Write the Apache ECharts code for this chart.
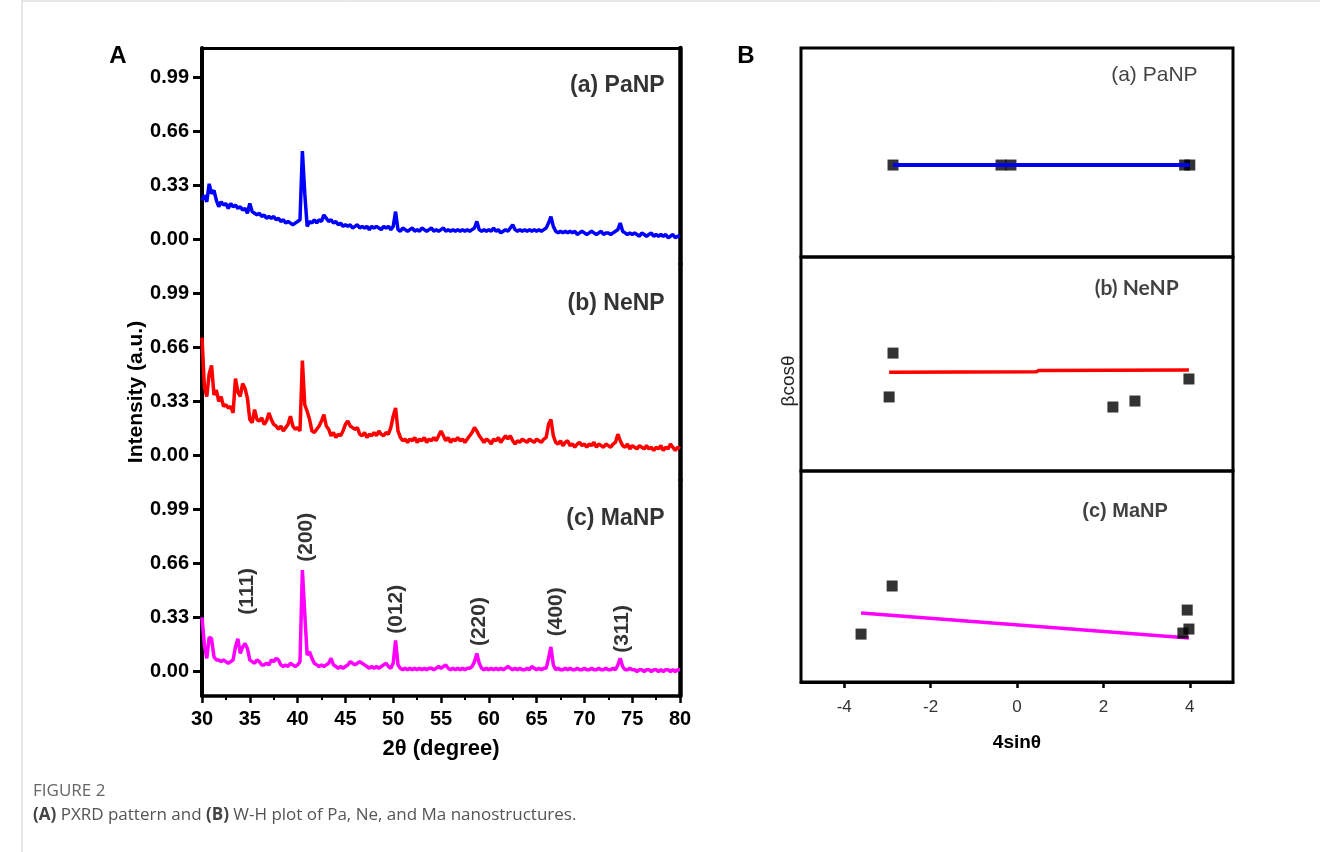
<!DOCTYPE html>
<html>
<head>
<meta charset="utf-8">
<script src="https://cdn.jsdelivr.net/npm/echarts@6/dist/echarts.min.js"></script>
<style>
html,body{margin:0;padding:0;background:#fff;}
#chart{width:1320px;height:852px;}
</style>
</head>
<body>
<div id="chart"></div>
<script>
// ---------- DATA ----------
const TWO_THETA_START = 30;
const TWO_THETA_STEP = 0.25;
const intensityPaNP = [
0.24,0.27,0.23,0.34,0.28,0.30,0.24,0.20,0.23,0.21,0.22,0.19,0.22,0.20,0.21,0.19,0.20,0.18,0.19,0.16,
0.22,0.17,0.16,0.15,0.16,0.14,0.15,0.13,0.14,0.13,0.14,0.12,0.13,0.11,0.12,0.10,0.11,0.10,0.09,0.10,
0.11,0.12,0.54,0.28,0.08,0.11,0.10,0.12,0.10,0.12,0.11,0.15,0.13,0.11,0.12,0.10,0.11,0.09,0.10,0.08,
0.09,0.08,0.09,0.07,0.08,0.09,0.07,0.08,0.07,0.08,0.06,0.08,0.07,0.08,0.07,0.06,0.08,0.07,0.08,0.06,
0.08,0.17,0.06,0.05,0.07,0.06,0.05,0.06,0.07,0.05,0.06,0.05,0.07,0.06,0.05,0.06,0.07,0.05,0.06,0.05,
0.06,0.07,0.05,0.06,0.05,0.06,0.05,0.06,0.05,0.06,0.05,0.06,0.05,0.06,0.07,0.11,0.06,0.05,0.06,0.05,
0.06,0.05,0.07,0.05,0.06,0.04,0.05,0.06,0.05,0.07,0.09,0.06,0.05,0.06,0.05,0.06,0.05,0.06,0.05,0.06,
0.05,0.06,0.05,0.06,0.07,0.10,0.14,0.08,0.05,0.04,0.05,0.04,0.05,0.04,0.05,0.04,0.05,0.03,0.04,0.05,
0.04,0.03,0.04,0.05,0.04,0.03,0.04,0.05,0.03,0.04,0.04,0.03,0.04,0.05,0.06,0.10,0.05,0.04,0.03,0.04,
0.03,0.04,0.03,0.02,0.04,0.03,0.02,0.03,0.04,0.02,0.03,0.02,0.03,0.02,0.03,0.01,0.02,0.03,0.01,0.02,
0.02];
const intensityNeNP = [
0.72,0.42,0.36,0.50,0.55,0.37,0.40,0.33,0.36,0.30,0.31,0.29,0.30,0.26,0.47,0.39,0.36,0.44,0.41,0.35,
0.22,0.20,0.28,0.22,0.21,0.23,0.19,0.21,0.26,0.22,0.19,0.18,0.16,0.18,0.15,0.17,0.19,0.24,0.18,0.16,
0.17,0.15,0.58,0.31,0.27,0.22,0.15,0.14,0.16,0.18,0.21,0.25,0.18,0.16,0.12,0.14,0.11,0.13,0.12,0.15,
0.19,0.21,0.18,0.17,0.16,0.17,0.13,0.12,0.14,0.11,0.13,0.12,0.14,0.12,0.15,0.13,0.12,0.14,0.13,0.17,
0.24,0.29,0.15,0.11,0.09,0.10,0.08,0.10,0.09,0.11,0.08,0.10,0.09,0.11,0.08,0.10,0.09,0.11,0.09,0.12,
0.15,0.12,0.09,0.11,0.08,0.10,0.09,0.11,0.09,0.10,0.08,0.10,0.12,0.14,0.17,0.15,0.12,0.10,0.08,0.10,
0.09,0.07,0.10,0.09,0.11,0.08,0.10,0.12,0.10,0.12,0.09,0.07,0.09,0.08,0.10,0.09,0.08,0.10,0.09,0.08,
0.10,0.09,0.08,0.10,0.11,0.19,0.22,0.12,0.08,0.07,0.09,0.06,0.08,0.09,0.06,0.07,0.05,0.07,0.08,0.06,
0.07,0.05,0.07,0.06,0.08,0.05,0.07,0.06,0.05,0.07,0.06,0.05,0.07,0.08,0.13,0.09,0.06,0.05,0.07,0.04,
0.06,0.05,0.04,0.06,0.05,0.04,0.06,0.04,0.05,0.03,0.05,0.04,0.06,0.03,0.05,0.04,0.07,0.05,0.03,0.05,
0.04];
const intensityMaNP = [
0.33,0.16,0.08,0.21,0.20,0.09,0.07,0.07,0.06,0.07,0.06,0.05,0.06,0.07,0.15,0.20,0.11,0.15,0.17,0.14,
0.07,0.06,0.05,0.07,0.06,0.04,0.04,0.05,0.04,0.07,0.06,0.08,0.07,0.04,0.03,0.04,0.03,0.05,0.04,0.03,
0.04,0.06,0.62,0.35,0.10,0.12,0.08,0.05,0.04,0.03,0.04,0.03,0.04,0.05,0.08,0.04,0.03,0.02,0.03,0.02,
0.03,0.04,0.06,0.05,0.04,0.05,0.06,0.05,0.04,0.03,0.02,0.03,0.02,0.03,0.02,0.03,0.04,0.05,0.03,0.02,
0.05,0.19,0.04,0.02,0.01,0.02,0.01,0.02,0.01,0.02,0.01,0.02,0.01,0.02,0.01,0.02,0.02,0.01,0.02,0.03,
0.02,0.03,0.04,0.02,0.01,0.02,0.01,0.02,0.01,0.02,0.01,0.02,0.02,0.03,0.06,0.11,0.05,0.02,0.01,0.02,
0.01,0.02,0.01,0.02,0.01,0.02,0.01,0.02,0.03,0.02,0.01,0.02,0.01,0.02,0.01,0.01,0.02,0.01,0.03,0.02,
0.01,0.02,0.01,0.02,0.02,0.08,0.15,0.04,0.01,0.02,0.01,0.01,0.02,0.01,0.02,0.01,0.01,0.02,0.01,0.01,
0.02,0.01,0.01,0.02,0.01,0.01,0.02,0.01,0.01,0.02,0.01,0.01,0.02,0.01,0.04,0.08,0.03,0.01,0.01,0.02,
0.01,0.01,0.00,0.01,0.01,0.00,0.01,0.01,0.00,0.01,0.01,0.00,0.01,0.00,0.01,0.01,0.00,0.01,0.00,0.01,
0.01];
const intensityTicks = [0, 0.33, 0.66, 0.99];
const panelNames = ['(a) PaNP', '(b) NeNP', '(c) MaNP'];
const panelNamePos = [[78.4, 0.94], [78.4, 0.925], [78.4, 0.935]];
const peakLabels = ['(111)', '(200)', '(012)', '(220)', '(400)', '(311)'];
const peakLabel2theta = [34.7, 40.9, 50.3, 58.95, 67.0, 74.0];
const peakLabelY = [0.49, 0.82, 0.38, 0.305, 0.365, 0.26];

// W-H plot (arbitrary βcosθ units)
const whPaNP_x = [-2.87, -0.37, -0.14, 3.88, 4.0];
const whPaNP_y = [4.4, 4.4, 4.4, 4.4, 4.4];
const whPaNP_fit = [[-2.87, 4.4], [4.0, 4.4]];
const whNeNP_x = [-2.87, -2.96, 2.22, 2.73, 3.98];
const whNeNP_y = [5.51, 3.46, 2.99, 3.27, 4.30];
const whNeNP_fit = [[-2.96, 4.62], [0.45, 4.64], [0.5, 4.70], [3.98, 4.72]];
const whMaNP_x = [-3.61, -2.89, 3.94, 3.98, 3.84];
const whMaNP_y = [2.27, 4.55, 3.41, 2.51, 2.32];
const whMaNP_fit = [[-3.61, 3.27], [3.98, 2.09]];
const whTicks = [-4, -2, 0, 2, 4];
const whPanelNamePos = [[3.18, 8.68], [2.77, 8.55], [2.50, 8.06]];

// ---------- BUILD ----------
function toPairs(arr) { return arr.map((v, i) => [TWO_THETA_START + i * TWO_THETA_STEP, v]); }
function zipXY(xs, ys) { return xs.map((x, i) => [x, ys[i]]); }

const AX = { left: 202, width: 478 };
const aTops = [48, 264, 480];
const aH = 216;
const bTops = [48, 257, 471];
const bHs = [209, 214, 211];
const BX = { left: 801, width: 432 };

const boldFont = 'Liberation Sans';
const grids = [];
aTops.forEach(t => grids.push({ left: AX.left, width: AX.width, top: t, height: aH, show: false }));
bTops.forEach((t, i) => grids.push({ left: BX.left, width: BX.width, top: t, height: bHs[i], show: true, borderColor: '#000', borderWidth: 3, backgroundColor: 'transparent' }));

const xAxes = [
  { gridIndex: 0, type: 'value', min: 30, max: 80, position: 'top', axisLine: { show: true, onZero: false, lineStyle: { color: '#000', width: 3 } }, axisTick: { show: false }, axisLabel: { show: false }, splitLine: { show: false } },
  { gridIndex: 1, type: 'value', min: 30, max: 80, show: false, splitLine: { show: false } },
  { gridIndex: 2, type: 'value', min: 30, max: 80, interval: 5, position: 'bottom',
    axisLine: { show: true, onZero: false, lineStyle: { color: '#000', width: 3.5 } },
    axisTick: { show: true, inside: false, length: 7, lineStyle: { color: '#000', width: 2.5 } },
    minorTick: { show: true, splitNumber: 2, length: 4, lineStyle: { color: '#000', width: 2 } },
    axisLabel: { color: '#000', fontFamily: boldFont, fontWeight: 'bold', fontSize: 20, margin: 13 },
    splitLine: { show: false }, minorSplitLine: { show: false },
    name: '2θ (degree)', nameLocation: 'middle', nameGap: 42,
    nameTextStyle: { color: '#000', fontFamily: boldFont, fontWeight: 'bold', fontSize: 22 } },
  { gridIndex: 3, type: 'value', min: -5, max: 5, show: false, splitLine: { show: false } },
  { gridIndex: 4, type: 'value', min: -5, max: 5, show: false, splitLine: { show: false } },
  { gridIndex: 5, type: 'value', min: -5, max: 5, position: 'bottom',
    axisLine: { show: true, onZero: false, lineStyle: { color: '#000', width: 3 } },
    axisTick: { show: true, inside: false, length: 6, customValues: whTicks, lineStyle: { color: '#000', width: 2.5 } },
    axisLabel: { customValues: whTicks, color: '#333', fontFamily: 'Liberation Sans', fontSize: 17, margin: 17 },
    splitLine: { show: false },
    name: '4sinθ', nameLocation: 'middle', nameGap: 51,
    nameTextStyle: { color: '#000', fontFamily: boldFont, fontWeight: 'bold', fontSize: 19 } }
];

const yAxes = [];
for (let g = 0; g < 3; g++) {
  yAxes.push({ gridIndex: g, type: 'value', min: -0.15, max: 1.17, position: 'left',
    axisLine: { show: true, onZero: false, lineStyle: { color: '#000', width: 4 } },
    axisTick: { show: true, inside: false, length: 9, customValues: intensityTicks, lineStyle: { color: '#000', width: 3 } },
    axisLabel: { customValues: intensityTicks, formatter: v => v.toFixed(2), color: '#000', fontFamily: boldFont, fontWeight: 'bold', fontSize: 20, margin: 13 },
    splitLine: { show: false } });
  yAxes.push({ gridIndex: g, type: 'value', min: -0.15, max: 1.17, position: 'right',
    axisLine: { show: true, onZero: false, lineStyle: { color: '#000', width: 4.5 } },
    axisTick: { show: false }, axisLabel: { show: false }, splitLine: { show: false } });
}
for (let g = 3; g < 6; g++) {
  yAxes.push({ gridIndex: g, type: 'value', min: 0, max: 10, show: false, splitLine: { show: false } });
}

const xrdColors = ['#0000ff', '#ff0000', '#ff00ff'];
const xrdData = [intensityPaNP, intensityNeNP, intensityMaNP];
const series = [];
xrdData.forEach((d, i) => {
  series.push({ type: 'line', xAxisIndex: i, yAxisIndex: i * 2, data: toPairs(d), showSymbol: false, symbol: 'none',
    lineStyle: { color: xrdColors[i], width: 3.5 }, itemStyle: { color: xrdColors[i] }, animation: false, z: 3 });
  series.push({ type: 'scatter', xAxisIndex: i, yAxisIndex: i * 2, symbolSize: 0, silent: true, animation: false,
    data: [{ value: panelNamePos[i], name: panelNames[i] }],
    label: { show: true, position: 'left', distance: 0, formatter: p => p.name, color: '#000', fontFamily: boldFont, fontWeight: 'bold', fontSize: 23 } });
});
series.push({ type: 'scatter', xAxisIndex: 2, yAxisIndex: 4, symbolSize: 0, silent: true, animation: false,
  data: peakLabels.map((n, i) => ({ value: [peakLabel2theta[i], peakLabelY[i]], name: n })),
  label: { show: true, position: 'inside', rotate: 90, formatter: p => p.name, color: '#000', fontFamily: boldFont, fontWeight: 'bold', fontSize: 21 } });

const whSets = [
  { x: whPaNP_x, y: whPaNP_y, fit: whPaNP_fit, color: '#0000ee', w: 4 },
  { x: whNeNP_x, y: whNeNP_y, fit: whNeNP_fit, color: '#ff0000', w: 3.5 },
  { x: whMaNP_x, y: whMaNP_y, fit: whMaNP_fit, color: '#ff00ff', w: 3.5 }
];
const whLabelStyles = [
  { fontFamily: 'Liberation Sans', fontWeight: 'normal', fontSize: 21, color: '#111' },
  { fontFamily: 'Lato', fontWeight: 'bold', fontSize: 21, color: '#111' },
  { fontFamily: 'Liberation Sans', fontWeight: 'bold', fontSize: 20, color: '#111' }
];
whSets.forEach((s, i) => {
  series.push({ type: 'scatter', xAxisIndex: 3 + i, yAxisIndex: 6 + i, data: zipXY(s.x, s.y), symbol: 'rect', symbolSize: 11,
    itemStyle: { color: '#000' }, animation: false, z: 3 });
  series.push({ type: 'line', xAxisIndex: 3 + i, yAxisIndex: 6 + i, data: s.fit, showSymbol: false, symbol: 'none',
    lineStyle: { color: s.color, width: s.w }, animation: false, z: i === 0 ? 4 : 2 });
  series.push({ type: 'scatter', xAxisIndex: 3 + i, yAxisIndex: 6 + i, symbolSize: 0, silent: true, animation: false,
    data: [{ value: whPanelNamePos[i], name: panelNames[i] }],
    label: Object.assign({ show: true, position: 'inside', formatter: p => p.name }, whLabelStyles[i]) });
});

const chart = echarts.init(document.getElementById('chart'), null, { renderer: 'canvas' });
chart.setOption({
  backgroundColor: '#fff',
  animation: false,
  grid: grids,
  xAxis: xAxes,
  yAxis: yAxes,
  series: series,
  graphic: [
    { type: 'line', shape: { x1: 22, y1: 0, x2: 22, y2: 852 }, style: { stroke: '#d0d0d0', lineWidth: 1 } },
    { type: 'line', shape: { x1: 22, y1: 1, x2: 1320, y2: 1 }, style: { stroke: '#d0d0d0', lineWidth: 1 } },
    { type: 'text', x: 118, y: 56, style: { text: 'A', font: 'bold 24px "Liberation Sans"', fill: '#000', textAlign: 'center', textVerticalAlign: 'middle' } },
    { type: 'text', x: 746, y: 56, style: { text: 'B', font: 'bold 24px "Liberation Sans"', fill: '#000', textAlign: 'center', textVerticalAlign: 'middle' } },
    { type: 'text', x: 136, y: 392, rotation: Math.PI / 2, style: { text: 'Intensity (a.u.)', font: 'bold 21px "Liberation Sans"', fill: '#000', textAlign: 'center', textVerticalAlign: 'middle' } },
    { type: 'text', x: 789, y: 381, rotation: Math.PI / 2, style: { text: 'βcosθ', font: '19px "Liberation Sans"', fill: '#222', textAlign: 'center', textVerticalAlign: 'middle' } },
    { type: 'text', x: 33, y: 791, style: { text: 'FIGURE 2', font: '17px "Open Sans"', fill: '#666', textVerticalAlign: 'middle' } },
    { type: 'text', x: 33, y: 815, style: {
        text: '{b|(A)} PXRD pattern and {b|(B)} W-H plot of Pa, Ne, and Ma nanostructures.',
        font: '17px "Open Sans"', fill: '#555', textVerticalAlign: 'middle',
        rich: { b: { fontWeight: 'bold', fontFamily: 'Open Sans', fontSize: 17, fill: '#444' } } } }
  ]
});
</script>
</body>
</html>
